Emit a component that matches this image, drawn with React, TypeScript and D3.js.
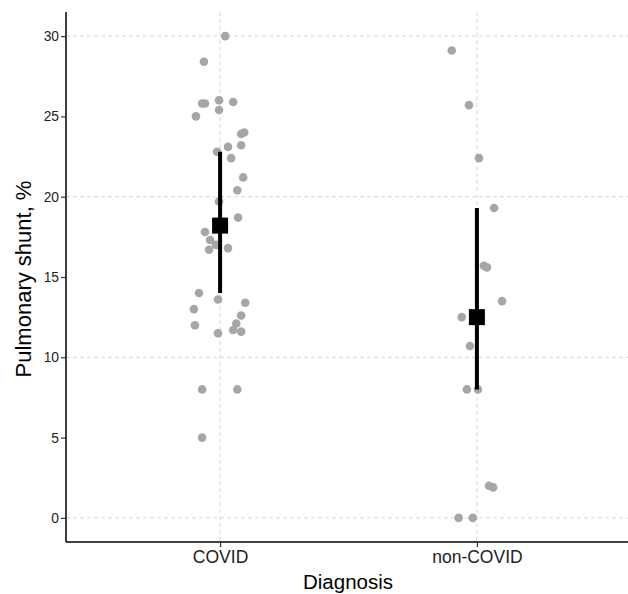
import React, { useEffect, useRef } from "react";
import * as d3 from "d3";

const categories = ["COVID", "non-COVID"];

// observed shunt values per patient and horizontal jitter (fraction of category step)
const covidValues = [30.0, 28.4, 25.8, 25.8, 26.0, 25.9, 25.4, 25.0, 24.0, 23.9, 23.2, 23.1, 22.8, 22.4, 21.2, 20.4, 19.7, 18.7, 17.8, 17.3, 17.0, 16.7, 16.8, 14.0, 13.6, 13.4, 13.0, 12.6, 12.1, 12.0, 11.7, 11.6, 11.5, 8.0, 8.0, 5.0];
const covidJitter = [0.02, -0.063, -0.07, -0.059, -0.004, 0.051, -0.004, -0.094, 0.094, 0.082, 0.082, 0.031, -0.012, 0.043, 0.09, 0.067, -0.004, 0.07, -0.059, -0.039, -0.016, -0.043, 0.031, -0.082, -0.008, 0.098, -0.102, 0.082, 0.063, -0.098, 0.051, 0.082, -0.008, -0.07, 0.067, -0.07];
const nonCovidValues = [29.1, 25.7, 22.4, 19.3, 15.7, 15.6, 13.5, 12.5, 10.7, 8.0, 8.0, 2.0, 1.9, 0.0, 0.0];
const nonCovidJitter = [-0.098, -0.031, 0.008, 0.067, 0.027, 0.039, 0.098, -0.059, -0.027, -0.039, 0.004, 0.047, 0.063, -0.071, -0.016];

// median and interquartile range
const medians = [18.2, 12.5];
const lowerQ = [14.0, 8.0];
const upperQ = [22.8, 19.3];

const yTicks = [0, 5, 10, 15, 20, 25, 30];
const yGrid = [0, 10, 20, 30];

export default function App() {
  const ref = useRef<SVGSVGElement>(null);

  useEffect(() => {
    const svg = d3.select(ref.current).html(null);
    const font = "'Liberation Sans', Arial, sans-serif";

    const x = d3.scalePoint<string>().domain(categories).range([66, 631]).padding(0.6);
    const y = d3.scaleLinear().domain([-1.5, 31.5]).range([542, 12]);
    const step = x.step();

    // grid
    const grid = svg.append("g");
    grid.selectAll("line.h").data(yGrid).enter().append("line")
      .attr("x1", 66).attr("x2", 628)
      .attr("y1", (d) => y(d)).attr("y2", (d) => y(d))
      .attr("stroke", "#d6d6d6").attr("stroke-width", 1).attr("stroke-dasharray", "4,3");
    grid.selectAll("line.v").data(categories).enter().append("line")
      .attr("x1", (d) => x(d)!).attr("x2", (d) => x(d)!)
      .attr("y1", 12).attr("y2", 542)
      .attr("stroke", "#d6d6d6").attr("stroke-width", 1).attr("stroke-dasharray", "4,3");

    // points
    const pts = [
      ...covidValues.map((v, i) => ({ c: categories[0], v, j: covidJitter[i] })),
      ...nonCovidValues.map((v, i) => ({ c: categories[1], v, j: nonCovidJitter[i] })),
    ];
    svg.append("g").selectAll("circle").data(pts).enter().append("circle")
      .attr("cx", (d) => x(d.c)! + d.j * step)
      .attr("cy", (d) => y(d.v))
      .attr("r", 4.3)
      .attr("fill", "#a6a6a6");

    // summary
    const sum = svg.append("g");
    sum.selectAll("line").data(categories).enter().append("line")
      .attr("x1", (d) => x(d)!).attr("x2", (d) => x(d)!)
      .attr("y1", (d, i) => y(lowerQ[i])).attr("y2", (d, i) => y(upperQ[i]))
      .attr("stroke", "#000").attr("stroke-width", 4);
    sum.selectAll("rect").data(categories).enter().append("rect")
      .attr("x", (d) => x(d)! - 8).attr("y", (d, i) => y(medians[i]) - 8)
      .attr("width", 16).attr("height", 16)
      .attr("fill", "#000");

    // axes
    const yAxis = svg.append("g").attr("transform", "translate(66,0)")
      .call(d3.axisLeft(y).tickValues(yTicks).tickSize(5).tickPadding(2));
    const xAxis = svg.append("g").attr("transform", "translate(0,542)")
      .call(d3.axisBottom(x).tickSize(5).tickPadding(4));
    [yAxis, xAxis].forEach((a) => {
      a.select(".domain").attr("stroke", "#000").attr("stroke-width", 1.5);
      a.selectAll(".tick line").attr("stroke", "#333").attr("stroke-width", 1.2);
      a.selectAll(".tick text").attr("fill", "#222").style("font-family", font);
    });
    yAxis.select(".domain").attr("d", "M0,12V542");
    xAxis.select(".domain").attr("d", "M66,0H628");
    yAxis.selectAll(".tick text").style("font-size", "13.8px");
    xAxis.selectAll(".tick text").style("font-size", "17.5px");

    svg.append("text")
      .attr("transform", "translate(31,279) rotate(-90)")
      .attr("text-anchor", "middle")
      .style("font-family", font).style("font-size", "22px").attr("fill", "#000")
      .text("Pulmonary shunt, %");
    svg.append("text")
      .attr("x", 348).attr("y", 589)
      .attr("text-anchor", "middle")
      .style("font-family", font).style("font-size", "20.5px").attr("fill", "#000")
      .text("Diagnosis");
  }, []);

  return (
    <svg ref={ref} width={628} height={594}
      style={{ position: "absolute", left: 0, top: 0, background: "#fff" }} />
  );
}
